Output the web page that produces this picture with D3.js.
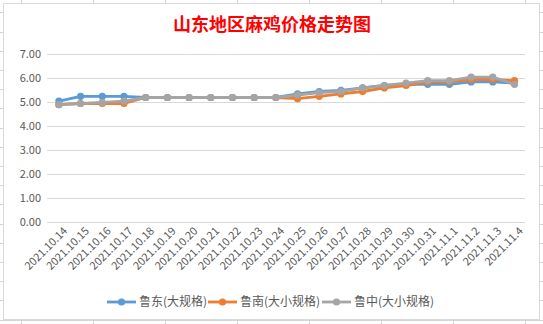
<!DOCTYPE html>
<html><head><meta charset="utf-8">
<script src="https://cdn.jsdelivr.net/npm/d3@7"></script>
<style>html,body{margin:0;padding:0;background:#fff;}svg{display:block;}</style>
</head><body>
<svg id="c" width="543" height="324"></svg>
<script>
const title = "山东地区麻鸡价格走势图";
const dates = ["2021.10.14","2021.10.15","2021.10.16","2021.10.17","2021.10.18","2021.10.19","2021.10.20","2021.10.21","2021.10.22","2021.10.23","2021.10.24","2021.10.25","2021.10.26","2021.10.27","2021.10.28","2021.10.29","2021.10.30","2021.10.31","2021.11.1","2021.11.2","2021.11.3","2021.11.4"];
const ludong = [5.05,5.25,5.25,5.25,5.2,5.2,5.2,5.2,5.2,5.2,5.2,5.35,5.45,5.5,5.6,5.7,5.75,5.75,5.75,5.85,5.85,5.8];
const lunan  = [4.9,4.95,4.95,4.95,5.2,5.2,5.2,5.2,5.2,5.2,5.2,5.15,5.25,5.35,5.45,5.6,5.7,5.85,5.85,5.95,5.95,5.9];
const luzhong= [4.9,4.95,5.0,5.05,5.2,5.2,5.2,5.2,5.2,5.2,5.2,5.3,5.4,5.45,5.6,5.7,5.8,5.9,5.9,6.05,6.05,5.75];
const seriesNames = ["鲁东(大规格)","鲁南(大小规格)","鲁中(大小规格)"];
const seriesColors = ["#5b9bd5","#ed7d31","#a5a5a5"];
const yTicks = [0,1,2,3,4,5,6,7];

const svg = d3.select("#c");
const font = "'Noto Sans CJK SC','Microsoft YaHei',sans-serif";

// spreadsheet background grid
const bg = svg.append("g");
const cols = [21,93,165,237,309,381,453,525];
cols.forEach(x=>bg.append("line").attr("x1",x+0.5).attr("x2",x+0.5).attr("y1",0).attr("y2",324).attr("stroke","#d4d4d4"));
d3.range(-7,18).map(k=>70+19.2*k).filter(y=>y>=0&&y<=324).forEach(y=>bg.append("line").attr("x1",0).attr("x2",543).attr("y1",Math.round(y)+0.5).attr("y2",Math.round(y)+0.5).attr("stroke","#d4d4d4"));

// chart box
svg.append("rect").attr("x",3.5).attr("y",3.5).attr("width",536).attr("height",316).attr("fill","#fff").attr("stroke","#d9d9d9");

svg.append("text").attr("x",272).attr("y",31).attr("text-anchor","middle")
  .attr("font-family",font).attr("font-size",18).attr("font-weight","bold").attr("fill","#ff0000").text(title);

const x = d3.scalePoint().domain(dates).range([58.9,514.5]);
const y = d3.scaleLinear().domain([0,7]).range([222.3,54.3]);

const g = svg.append("g");
// gridlines
g.selectAll(".grid").data(yTicks).join("line")
  .attr("x1",47).attr("x2",525).attr("y1",d=>Math.round(y(d))+0.5).attr("y2",d=>Math.round(y(d))+0.5)
  .attr("stroke","#d9d9d9").attr("stroke-width",1);

// y axis labels
const yAxis = d3.axisLeft(y).tickValues(yTicks).tickFormat(d3.format(".2f")).tickSize(0).tickPadding(0);
const ya = svg.append("g").attr("transform","translate(41,0)").call(yAxis);
ya.select(".domain").remove();
ya.selectAll("text").attr("font-family",font).attr("font-size",11).attr("fill","#595959");

// x axis labels
const xAxis = d3.axisBottom(x).tickSize(0).tickPadding(0);
const xa = svg.append("g").attr("transform","translate(0,229)").call(xAxis);
xa.select(".domain").remove();
xa.selectAll("text").attr("font-family",font).attr("font-size",11).attr("fill","#595959")
  .attr("text-anchor","end").attr("dy","0.35em")
  .attr("transform","translate(6,0) rotate(-45)");

// series
const allSeries = [ludong,lunan,luzhong];
const line = d3.line().x((d,i)=>x(dates[i])).y(d=>y(d));
allSeries.forEach((s,si)=>{
  const sg = svg.append("g");
  sg.append("path").attr("d",line(s)).attr("fill","none").attr("stroke",seriesColors[si])
    .attr("stroke-width",2.8).attr("stroke-linejoin","round").attr("stroke-linecap","round");
  sg.selectAll("circle").data(s).join("circle").attr("cx",(d,i)=>x(dates[i])).attr("cy",d=>y(d))
    .attr("r",3.6).attr("fill",seriesColors[si]);
});

// legend
const legendX = [107,208,322];
const lg = svg.append("g");
seriesNames.forEach((n,i)=>{
  const lx = legendX[i], ly = 302;
  lg.append("line").attr("x1",lx).attr("x2",lx+29).attr("y1",ly).attr("y2",ly).attr("stroke",seriesColors[i]).attr("stroke-width",2.8);
  lg.append("circle").attr("cx",lx+14.5).attr("cy",ly).attr("r",3.6).attr("fill",seriesColors[i]);
  lg.append("text").attr("x",lx+32).attr("y",ly).attr("dy","0.36em").attr("font-family",font).attr("font-size",12).attr("fill","#595959").text(n);
});
</script>
</body></html>
